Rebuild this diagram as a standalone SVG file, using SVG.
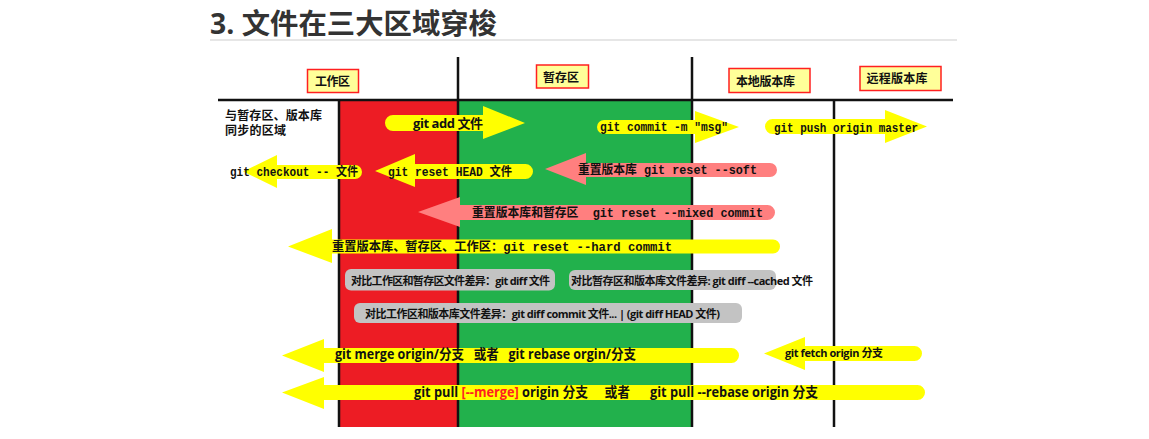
<svg xmlns="http://www.w3.org/2000/svg" width="1149" height="439" viewBox="0 0 1149 439" xml:space="preserve">
<style>
text{white-space:pre}
.title{font-family:"Open Sans","Noto Sans CJK SC",sans-serif;font-weight:bold;font-size:28px;fill:#333}
.lbl{font-family:"Noto Sans CJK SC",sans-serif;font-weight:bold;font-size:12px;fill:#111}
.box{fill:#ffff99;stroke:#ff2020;stroke-width:1.5}
.sans{font-family:"Open Sans","Noto Sans CJK SC",sans-serif;font-weight:bold;fill:#111}
.mono{font-family:"Liberation Mono","Noto Sans CJK SC",monospace;font-weight:bold;font-size:12.5px;fill:#111}
.line{stroke:#111;stroke-width:2.5;fill:none}
.ya{fill:#ffff00}
.pa{fill:#ff7f7f}
.gbox{fill:#c3c3c3}
</style>
<rect width="1149" height="439" fill="#fff"/>
<text class="title" x="210" y="34" textLength="287" lengthAdjust="spacingAndGlyphs">3. 文件在三大区域穿梭</text>
<line x1="210" y1="40" x2="957" y2="40" stroke="#e6e6e6" stroke-width="2"/>
<g id="areas">
<rect x="339" y="100" width="119" height="327" fill="#ed1c24"/>
<rect x="458" y="100" width="234" height="327" fill="#22b14c"/>
<line class="line" x1="218" y1="100" x2="953" y2="100"/>
<line class="line" x1="339" y1="99" x2="339" y2="427" stroke-width="2"/>
<line class="line" x1="458" y1="57" x2="458" y2="427"/>
<line class="line" x1="692" y1="57" x2="692" y2="427"/>
<line class="line" x1="834" y1="100" x2="834" y2="427"/>
</g>
<g id="node-workdir"><rect class="box" x="307.5" y="69.5" width="51" height="23"/><text class="lbl" x="315" y="86" textLength="35">工作区</text></g>
<g id="node-stage"><rect class="box" x="536.5" y="65" width="52" height="23"/><text class="lbl" x="543" y="81.5" textLength="36">暂存区</text></g>
<g id="node-local"><rect class="box" x="729" y="68.5" width="81" height="24"/><text class="lbl" x="736" y="85.5" textLength="59">本地版本库</text></g>
<g id="node-remote"><rect class="box" x="860" y="66.5" width="81" height="24"/><text class="lbl" x="866.5" y="83" textLength="61">远程版本库</text></g>
<g id="node-note"><text class="lbl" x="225" y="120" textLength="97">与暂存区、版本库</text><text class="lbl" x="225" y="135" textLength="61">同步的区域</text></g>
<g id="connectors">
<path class="ya" d="M483,115 H393 A8,8 0 0 0 393,131 H483 V139 L525,123 L483,106 Z"/>
<path class="ya" d="M695,120 H604 A7,7 0 0 0 604,134 H695 V143 L739,127 L695,111 Z"/>
<path class="ya" d="M885,119 H772.5 A7.5,7.5 0 0 0 772.5,134 H885 V143 L927,126.5 L885,110 Z"/>
<path class="ya" d="M277,165 H355 A7,7 0 0 1 355,179 H277 V188 L243,171.5 L277,155 Z"/>
<path class="ya" d="M415,164 H525.5 A7.5,7.5 0 0 1 525.5,179 H415 V187 L375,171 L415,154 Z"/>
<path class="pa" d="M586,163 H770 A7,7 0 0 1 770,177 H586 V185 L545,169 L586,153 Z"/>
<path class="pa" d="M460,205 H767.5 A7.5,7.5 0 0 1 767.5,220 H460 V227 L418,212 L460,197 Z"/>
<path class="ya" d="M332,239.5 H773 A7,7 0 0 1 773,253.5 H332 V263 L288,246.5 L332,229 Z"/>
<path class="ya" d="M324,348 H731.5 A7.5,7.5 0 0 1 731.5,363 H324 V372 L282,355.5 L324,339 Z"/>
<path class="ya" d="M805,346 H914.5 A7.5,7.5 0 0 1 914.5,361 H805 V370 L764,353.5 L805,337 Z"/>
<path class="ya" d="M324,385 H917.5 A7.5,7.5 0 0 1 917.5,400 H324 V409 L282,392.5 L324,377 Z"/>
<text class="sans" x="413" y="127.5" font-size="13" textLength="70">git add 文件</text>
<text class="mono" x="600" y="131" textLength="128" lengthAdjust="spacingAndGlyphs">git commit -m "msg"</text>
<text class="mono" x="774" y="131.5" textLength="144" lengthAdjust="spacingAndGlyphs">git push origin master</text>
<text class="mono" x="230" y="175.5" textLength="128" lengthAdjust="spacingAndGlyphs">git checkout -- 文件</text>
<text class="mono" x="388" y="175.5" textLength="124" lengthAdjust="spacingAndGlyphs">git reset HEAD 文件</text>
<text class="mono" x="578" y="173.5" textLength="179" lengthAdjust="spacingAndGlyphs">重置版本库 git reset --soft</text>
<text class="mono" x="472" y="216.5" textLength="291" lengthAdjust="spacingAndGlyphs">重置版本库和暂存区  git reset --mixed commit</text>
<text class="mono" x="332" y="250.5" textLength="340" lengthAdjust="spacingAndGlyphs">重置版本库、暂存区、工作区：git reset --hard commit</text>
<text class="sans" x="335" y="359" font-size="13.5" textLength="301" lengthAdjust="spacingAndGlyphs">git merge origin/分支   或者   git rebase orgin/分支</text>
<text class="sans" x="785" y="357" font-size="11" textLength="98">git fetch origin 分支</text>
<text class="sans" x="414" y="396.5" font-size="13.5" textLength="404" lengthAdjust="spacingAndGlyphs">git pull <tspan fill="#ff2020">[--merge]</tspan> origin 分支     或者      git pull --rebase origin 分支</text>
</g>
<g id="node-diff1"><rect class="gbox" x="345" y="269" width="210" height="21.5" rx="6"/><text class="sans" x="351" y="284.5" font-size="11" textLength="199">对比工作区和暂存区文件差异：git diff 文件</text></g>
<g id="node-diff2"><rect class="gbox" x="569" y="270" width="207" height="20" rx="6"/><text class="sans" x="571" y="284.5" font-size="11" textLength="242">对比暂存区和版本库文件差异: git diff --cached 文件</text></g>
<g id="node-diff3"><rect class="gbox" x="354" y="303" width="388" height="20" rx="6"/><text class="sans" x="365" y="317.5" font-size="11" textLength="355">对比工作区和版本库文件差异：git diff commit 文件... | (git diff HEAD 文件)</text></g>
</svg>
